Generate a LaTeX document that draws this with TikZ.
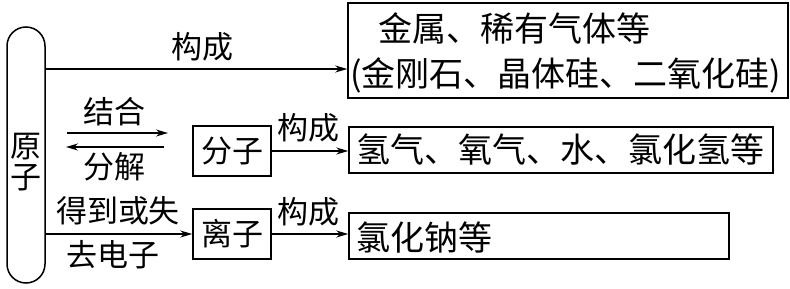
\documentclass[tikz,border=0pt]{standalone}
\usepackage{fontspec}
\newfontfamily\cjk{Noto Sans CJK SC}
\usetikzlibrary{arrows.meta}
\tikzset{
  bx/.style={draw, line width=1.5pt, inner sep=0pt},
  lbl/.style={font=\cjk\fontsize{31}{33}\selectfont, inner sep=0pt},
  txt/.style={font=\cjk\fontsize{34}{36}\selectfont, inner sep=0pt, anchor=west},
  conn/.style={line width=1.5pt, -{Stealth[length=12pt,width=7pt]}}
}
\begin{document}
\begin{tikzpicture}[x=1pt,y=-1pt]
\useasboundingbox (0,0) rectangle (790,289);
% boxes
\node[bx, minimum width=38pt, minimum height=256pt, rounded corners=19pt] (atom) at (26,155) {};
\node[lbl, align=center] (atomt) at (26,162) {原\\[-2pt]子};
\node[bx, minimum width=78pt, minimum height=50pt] (mol) at (232,151) {};
\node[lbl] (molt) at (232,151) {分子};
\node[bx, minimum width=78pt, minimum height=50pt] (ion) at (232,234) {};
\node[lbl] (iont) at (232,234) {离子};
\node[bx, minimum width=440pt, minimum height=95pt] (top) at (568,50.5) {};
\node[txt] (top1) at (378,28) {金属、稀有气体等};
\node[txt] (top2) at (350,75) {(金刚石、晶体硅、二氧化硅)};
\node[bx, minimum width=424pt, minimum height=46pt] (mid) at (561,150) {};
\node[txt] (midt) at (356,150) {氢气、氧气、水、氯化氢等};
\node[bx, minimum width=380pt, minimum height=46pt] (low) at (539,236) {};
\node[txt] (lowt) at (356,237) {氯化钠等};
% labels
\node[lbl] (l1) at (202,47) {构成};
\node[lbl] (l2) at (308,128) {构成};
\node[lbl] (l3) at (308,212) {构成};
\node[lbl] (l4) at (114,112) {结合};
\node[lbl] (l5) at (114,167) {分解};
\node[lbl] (l6) at (118,211) {得到或失};
\node[lbl] (l7) at (113,255) {去电子};
% coordinates
\coordinate (ytop) at (0,69);
\coordinate (a1) at (67,133);
\coordinate (a2) at (168,133);
\coordinate (b1) at (164,147);
\coordinate (b2) at (66,147);
% connectors
\draw[conn] (atom.east |- ytop) -- (top.west |- ytop);
\draw[conn] (a1) -- (a2);
\draw[conn] (b1) -- (b2);
\draw[conn] (atom.east |- ion.west) -- (ion.west);
\draw[conn] (mol.east) -- (mid.west |- mol.east);
\draw[conn] (ion.east) -- (low.west |- ion.east);
\end{tikzpicture}
\end{document}
